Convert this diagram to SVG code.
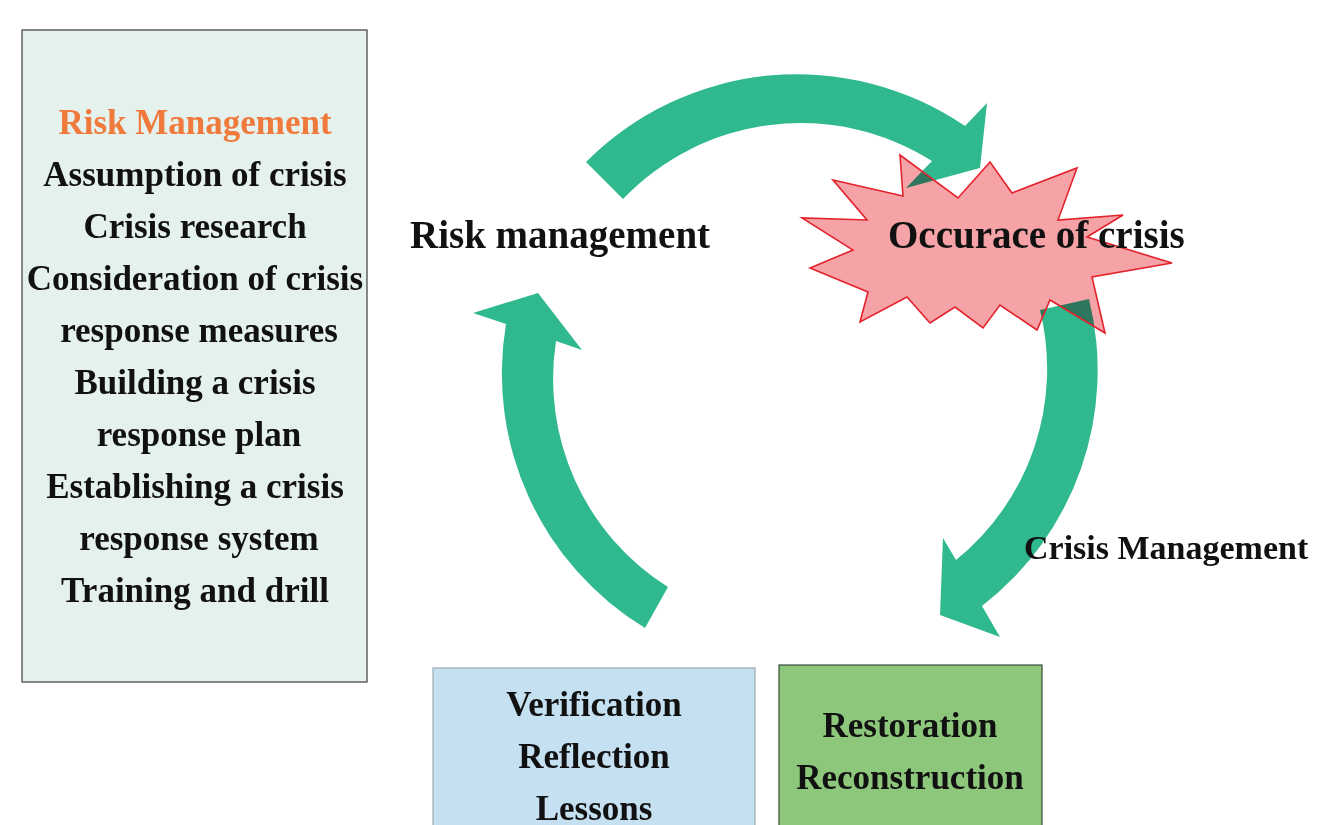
<svg xmlns="http://www.w3.org/2000/svg" width="1317" height="825" viewBox="0 0 1317 825">
  <style>
    text { font-family: "Liberation Serif", "Times New Roman", serif; font-weight: bold; fill: #111; }
    .list { font-size: 35px; text-anchor: middle; }
    .title { fill: #f07a3c; }
    .big { font-size: 39px; }
    .mid { font-size: 34px; }
    .boxtxt { font-size: 35px; text-anchor: middle; }
    .cycle { fill: #30b98e; }
    .burst-fill { fill: #f5a3a6; stroke: none; mix-blend-mode: multiply; }
    .burst-line { fill: none; stroke: #e3222c; stroke-width: 1.6; stroke-linejoin: miter; }
  </style>
  <defs>
    <polygon id="burst" points="833,180 903,196 900,155 958,198 990,162 1012,193 1077,168 1058,220 1123,215 1087,237 1172,263 1092,277 1105,333 1050,300 1037,330 1000,305 983,328 955,307 930,323 907,297 860,322 868,292 810,268 853,250 802,218 867,220"/>
  </defs>

  <rect width="1317" height="825" fill="#ffffff"/>

  <!-- left panel: risk management measures -->
  <g id="risk-panel">
    <rect x="22" y="30" width="345" height="652" fill="#e5f1ed" stroke="#4a4a4a" stroke-width="1.3"/>
    <text class="list title" x="195" y="134">Risk Management</text>
    <text class="list" x="195" y="186">Assumption of crisis</text>
    <text class="list" x="195" y="238">Crisis research</text>
    <text class="list" x="195" y="290">Consideration of crisis</text>
    <text class="list" x="199" y="342">response measures</text>
    <text class="list" x="195" y="394">Building a crisis</text>
    <text class="list" x="199" y="446">response plan</text>
    <text class="list" x="195" y="498">Establishing a crisis</text>
    <text class="list" x="199" y="550">response system</text>
    <text class="list" x="195" y="602">Training and drill</text>
  </g>

  <!-- stage label: risk management -->
  <g id="risk-label">
    <text class="big" x="410" y="248">Risk management</text>
  </g>

  <!-- cycle arrows -->
  <g id="connectors">
    <path class="cycle" d="M586,162 A298,298 0 0 1 965,126 L987,103 L980,168 L906,188 L932,161 A246,246 0 0 0 623,199 Z"/>
    <path class="cycle" d="M1089,299 A298,298 0 0 1 982,606 L1000,637 L940,615 L943,538 L956,560 A246,246 0 0 0 1040,310 Z"/>
    <path class="cycle" d="M645,628 A298,298 0 0 1 506,324 L473,313 L538,293 L582,350 L556,341 A246,246 0 0 0 668,587 Z"/>
  </g>

  <!-- crisis burst -->
  <g id="crisis">
    <use href="#burst" class="burst-fill"/>
    <use href="#burst" class="burst-line"/>
    <text class="big" x="888" y="248">Occurace of crisis</text>
  </g>

  <g id="crisis-label">
    <text class="mid" x="1024" y="559">Crisis Management</text>
  </g>

  <!-- review stage -->
  <g id="review">
    <rect x="433" y="668" width="322" height="170" fill="#c5e0f1" stroke="#9aa9b4" stroke-width="1.2"/>
    <text class="boxtxt" x="594" y="716">Verification</text>
    <text class="boxtxt" x="594" y="768">Reflection</text>
    <text class="boxtxt" x="594" y="820">Lessons</text>
  </g>

  <!-- recovery stage -->
  <g id="recovery">
    <rect x="779" y="665" width="263" height="175" fill="#8dc77b" stroke="#3a4a3a" stroke-width="1.2"/>
    <text class="boxtxt" x="910" y="737">Restoration</text>
    <text class="boxtxt" x="910" y="789">Reconstruction</text>
  </g>
</svg>
